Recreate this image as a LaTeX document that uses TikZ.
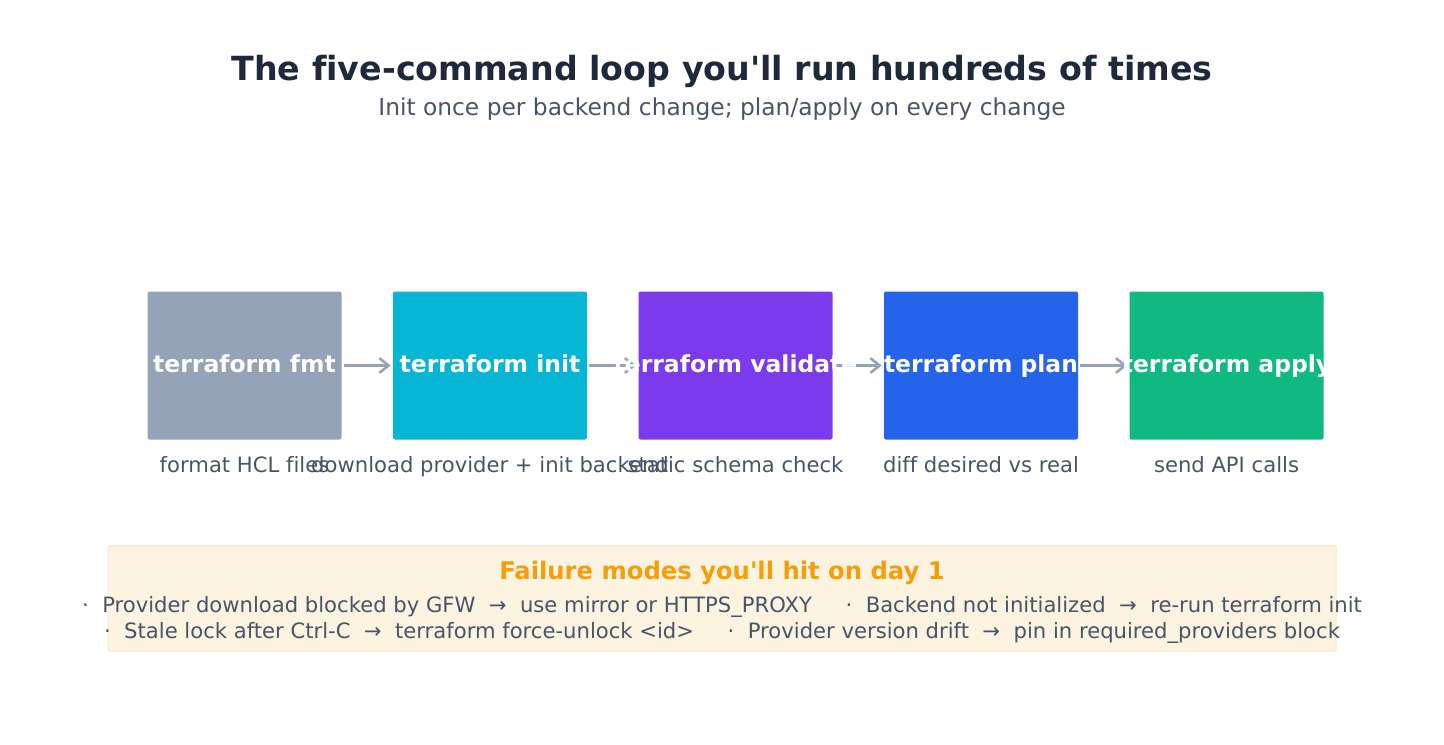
\documentclass[tikz,border=0pt]{standalone}
\usepackage{fontspec}
\setmainfont{DejaVu Sans}[Ligatures=NoCommon]
\usepackage{tikz}
\usetikzlibrary{arrows.meta}
\usetikzlibrary{positioning}
\definecolor{titlecol}{HTML}{1E293B}
\definecolor{textcol}{HTML}{475569}
\definecolor{arrowcol}{HTML}{94A3B8}
\definecolor{fmtcol}{HTML}{94A3B8}
\definecolor{initcol}{HTML}{06B6D4}
\definecolor{validatecol}{HTML}{7C3AED}
\definecolor{plancol}{HTML}{2563EB}
\definecolor{applycol}{HTML}{10B981}
\definecolor{warnfill}{HTML}{FDF3E1}
\definecolor{warnline}{HTML}{FCE8C4}
\definecolor{warncol}{HTML}{F59E0B}

\begin{document}
\begin{tikzpicture}[
    x=0.75pt, y=-0.75pt,
    stepbox/.style={draw=none, rounded corners=1.5pt, minimum width=145.5pt, minimum height=111pt, inner sep=0pt},
    steplabel/.style={text=white, font=\bfseries\fontsize{17.6}{20}\selectfont, inner sep=0pt, anchor=base},
    stepnote/.style={text=textcol, font=\fontsize{15.85}{18}\selectfont, inner sep=0pt, anchor=base},
    flow/.style={arrowcol, line width=1.9pt, -{Straight Barb[length=7pt, width=11pt]}, shorten <=1.5pt, shorten >=1.5pt},
    every node/.style={inner sep=0pt}
    ]

    % canvas
    \useasboundingbox (0,0) rectangle (1444,745);

    % title
    \node[anchor=base, text=titlecol, font=\bfseries\fontsize{24.95}{28}\selectfont] (title) at (722,80.5) {The five-command loop you\textquotesingle ll run hundreds of times};
    \node[anchor=base, text=textcol, font=\fontsize{17.5}{20}\selectfont] (subtitle) at (722,116) {Init once per backend change; plan/apply on every change};

    % boxes
    \node[stepbox, fill=fmtcol] (fmt) at (244.5,365.5) {};
    \node[stepbox, fill=initcol] (init) at (490,365.5) {};
    \node[stepbox, fill=validatecol] (validate) at (735.5,365.5) {};
    \node[stepbox, fill=plancol] (plan) at (981,365.5) {};
    \node[stepbox, fill=applycol] (apply) at (1226.5,365.5) {};

    % arrows
    \draw[flow] (fmt) -- (init);
    \draw[flow] (init) -- (validate);
    \draw[flow] (validate) -- (plan);
    \draw[flow] (plan) -- (apply);

    % labels
    \node[steplabel] (fmt-l) at (244.5,372.5) {terraform fmt};
    \node[steplabel] (init-l) at (490,372.5) {terraform init};
    \node[steplabel] (validate-l) at (735.5,372.5) {terraform validate};
    \node[steplabel] (plan-l) at (981,372.5) {terraform plan};
    \node[steplabel] (apply-l) at (1226.5,372.5) {terraform apply};

    % notes
    \node[stepnote] (fmt-n) at (244.5,472) {format HCL files};
    \node[stepnote] (init-n) at (490,472) {download provider + init backend};
    \node[stepnote] (validate-n) at (735.5,472) {static schema check};
    \node[stepnote] (plan-n) at (981,472) {diff desired vs real};
    \node[stepnote] (apply-n) at (1226.5,472) {send API calls};

    % failure modes
    \filldraw[fill=warnfill, draw=warnline, line width=0.75pt, rounded corners=1pt] (108,545.5) rectangle (1336,651);
    \node[anchor=base, text=warncol, font=\bfseries\fontsize{18.2}{20}\selectfont] (warn) at (722,579.5) {Failure modes you\textquotesingle ll hit on day 1};
    \node[stepnote] (warn-a) at (722,612) {·~~Provider download blocked by GFW~~→~~use mirror or HTTPS\_PROXY~~~~~·~~Backend not initialized~~→~~re-run terraform init};
    \node[stepnote] (warn-b) at (722,638.5) {·~~Stale lock after Ctrl-C~~→~~terraform force-unlock <id>~~~~~·~~Provider version drift~~→~~pin in required\_providers block};
\end{tikzpicture}
\end{document}
